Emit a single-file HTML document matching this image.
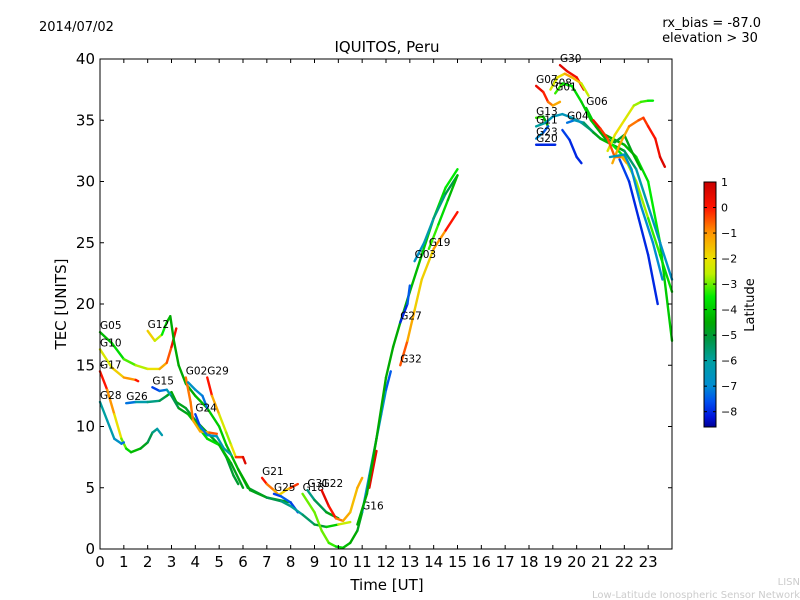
<!DOCTYPE html>
<html><head><meta charset="utf-8"><style>
body{margin:0;background:#fff;}
svg{display:block;font-family:"DejaVu Sans","Liberation Sans",sans-serif;}
</style></head><body>
<svg id="c" width="800" height="600">
<rect width="800" height="600" fill="#fff"/>
<text x="39" y="31" font-size="13">2014/07/02</text>
<text x="761" y="27" font-size="13" text-anchor="end">rx_bias = -87.0</text>
<text x="710" y="42" font-size="13" text-anchor="middle">elevation &gt; 30</text>
<text x="387" y="52" font-size="15" text-anchor="middle">IQUITOS, Peru</text>
<text x="387" y="590" font-size="15" text-anchor="middle">Time [UT]</text>
<text transform="translate(66,304) rotate(-90)" font-size="15" text-anchor="middle">TEC [UNITS]</text>
<text x="800" y="585" font-size="10" fill="#ccc" text-anchor="end">LISN</text>
<text x="800" y="598" font-size="10" fill="#ccc" text-anchor="end">Low-Latitude Ionospheric Sensor Network</text>
<g id="marks"></g>
<g id="axes"></g>
<defs><linearGradient id="jet" x1="0" y1="0" x2="0" y2="1"></linearGradient></defs>
<rect x="704" y="182" width="12" height="245" fill="url(#jet)" stroke="#000" stroke-width="1"/>
<text transform="translate(754,305) rotate(-90)" font-size="13" text-anchor="middle">Latitude</text>
<g id="cbt"></g>
</svg>
<script>
const xTicks=[0,1,2,3,4,5,6,7,8,9,10,11,12,13,14,15,16,17,18,19,20,21,22,23];
const yTicks=[0,5,10,15,20,25,30,35,40];
const cbTicks=[1,0,-1,-2,-3,-4,-5,-6,-7,-8];
const names=["G05","G12","G10","G17","G28","G26","G15","G02","G02b","G29","G24","G21","G25","G-low","G18","G31","G22","G16","G16b","G-rise","G32","G27","G03","G19","G07","G30","G08","G01","G13","G11","G04","G23","G20","G20b","G06","G-y","G-o","G-r","G-bd","G-teal"];
const labels=["G05","G12","G10","G17","G28","G26","G15","G02","","G29","G24","G21","G25","","G18","G31","G22","G16","","","G32","G27","G03","G19","G07","G30","G08","G01","G13","G11","G04","G23","G20","","G06","","","","",""];
const times=[
[0,0.5,1,1.5,2,2.5,2.8,3,3.2],
[2,2.3,2.6,2.8,2.95,3.1,3.3,3.6,4,4.5,5,5.3,5.8,6.2,7,8],
[0,0.5,1,1.5,1.6],
[0,0.3,0.6,0.9,1.1,1.3,1.7,2,2.2,2.4,2.6],
[0,0.3,0.6,0.9,1],
[1.1,1.5,2,2.5,2.8,3,3.2,3.6,4,4.5,5,5.3,5.6,5.8],
[2.2,2.5,2.8,3,3.3,3.7,4.1,4.5,5,5.5,6],
[3.6,3.8,3.9,4.2,4.6,4.9],
[3.7,4,4.3,4.5],
[4.5,4.7,5,5.3,5.5,5.7,6,6.1],
[4,4.2,4.5,4.9,5.2,5.5],
[6.8,7,7.3,7.5,7.8,8,8.3],
[7.3,7.6,8,8.3],
[5.8,6.3,7,7.6,8,8.5,9,9.5,10,10.5],
[8.5,9,9.3,9.6,9.9,10.2,10.5,10.8,11],
[8.7,9,9.5,10],
[9.3,9.6,9.9,10.2,10.5,10.8,11],
[11,11.3,11.6,11.8,12,12.2],
[11.3,11.6],
[10.8,11.2,11.6,12,12.3,12.6,13,13.5,14,14.5,15],
[12.6,12.9,13.2,13.5,14,14.5,15],
[12.6,12.9,13],
[13.2,13.6,14,14.5,15],
[13.8,14.2,14.6,15],
[18.3,18.6,18.8,19,19.3],
[19.3,19.6,20,20.3],
[18.9,19.2,19.5,19.8,20.2,20.5],
[19.1,19.4,19.8,20.2,20.6,21,21.5,22,22.5,23,23.5,24],
[18.3,18.6,18.8],
[18.3,18.7,19,19.4,19.8,20.2,20.6,21,21.5,22,22.5,23,23.5,24],
[19.6,19.9,20.3,20.7,21,21.5,22,22.5,23,23.5,24],
[18.3,18.6,18.8],
[18.3,18.7,19.1],
[19.4,19.7,20,20.2],
[20.4,20.8,21.2,21.6,22,22.3,22.7],
[21.3,21.6,22,22.4,22.7,23,23.2],
[21.5,21.8,22.2,22.6,22.8,23,23.3,23.5,23.7],
[20.7,21,21.3,21.6,21.9,22.1],
[21.8,22.2,22.6,23,23.4],
[21.4,22,22.3,22.7,23.2,23.6]];
const tec=[
[17.7,16.8,15.5,15,14.7,14.7,15.2,16.5,18],
[17.8,17,17.5,18.5,19,17,15,13.5,12.5,11.5,10,8.5,6.5,5,4.2,3.8],
[16.3,14.8,14,13.8,13.7],
[14.5,13,11,9,8.2,7.9,8.2,8.7,9.5,9.8,9.3],
[12,10.5,9,8.6,8.7],
[11.9,12,12,12.1,12.5,12.8,12,11.5,10.5,9.5,8.5,7.5,6,5.3],
[13.2,12.9,13,12.5,11.5,11,10,9,8.5,7,5],
[14,12,10.5,9.6,9.5,9.4],
[13.6,13,12.5,11.5],
[14,12.5,11,9.5,8.5,7.5,7.5,7],
[11,10,9.3,9.2,8.2,7.7],
[5.8,5.3,4.8,4.4,4.8,5,5.3],
[4.5,4.3,3.8,3],
[6.5,4.8,4.2,3.9,3.5,2.8,2,1.8,2,2.2],
[4.5,3,1.5,0.5,0.2,0.1,0.5,1.5,3],
[4.8,4,3,2.5],
[4.8,3.5,2.5,2.3,3,5,5.8],
[3,6,9,11,13,14.5],
[5,8],
[2,4.5,9,14,16.5,18.5,21,24,27,29.5,31],
[15,17,19.5,22,24.5,26,27.5],
[18.5,20,21.5],
[23.5,25,27,29,30.5],
[24.5,26.5,28.5,30.5],
[37.8,37.3,36.5,36.2,36.5],
[39.5,39,38.5,37.5],
[37.5,38.5,38.8,38.5,38,37],
[37.2,38,37.8,36.5,35,34,33.5,33,32,30,25,17],
[35.2,35.3,34.5],
[34.5,34.8,35.3,35.5,35.2,34.8,34.2,33.5,33,32.5,31,28,25,22],
[34.8,35,34.8,34,33.5,33,32,30,27,24,21],
[33.5,34,34.5],
[33,33,33],
[34.2,33.4,32,31.5],
[36,34.5,33.5,33.2,33.8,32.5,31],
[32.5,33.8,35,36.2,36.5,36.6,36.6],
[31.5,33,34.5,35,35.2,34.5,33.5,32,31.2],
[35,34.3,33.5,32,32,31.5],
[31.8,30,27,24,20],
[32,32.2,31,28,25,22]];
const lats=[
[-4.5,-4,-3.5,-2.8,-2.5,-1.5,-1,0,0.5],
[-1.5,-2,-3,-4,-4.5,-4.5,-4.5,-4.5,-4.5,-4,-4,-4,-4.5,-5,-5,-4.5],
[-2.5,-2,-1.5,-0.5,0.5],
[0.5,-0.5,-1.5,-2.5,-3.5,-4,-4.5,-5,-5.5,-6,-6.5],
[-6,-6,-6.5,-7,-7.5],
[-8,-6.5,-6,-5.5,-5,-4.5,-4.5,-5,-5,-4.5,-5,-5,-5,-5],
[-8,-7.5,-7,-5.5,-5,-4.5,-4,-3.5,-4,-4.5,-5],
[-1,-0.5,-1,-1.5,-1,0],
[-6.5,-7,-7,-7.5],
[0.5,-0.5,-2,-2.5,-3,-1,0.5,0.7],
[-8,-7.5,-7,-6.5,-6,-6],
[0.5,-0.5,-1,-1.5,-2,-1,0.5],
[-8,-7.5,-7.5,-8],
[-4.5,-4.5,-5,-5.5,-6,-6,-5,-5,-3,-2],
[-3,-3,-3,-3,-3.5,-4,-4.5,-4.5,-5],
[-6,-5.5,-5,-4.5],
[0.5,0.5,-0.5,-1,-1.5,-1.5,-1],
[-7,-6.5,-6.5,-7,-7,-8],
[0.5,0.5],
[-4.5,-4.5,-4.5,-4.5,-4.5,-4.5,-4.5,-4,-4,-3.5,-3.5],
[0,-1,-1.5,-2,-1.5,-0.5,0.5],
[-8,-8,-7],
[-7,-6.5,-6,-5.5,-5],
[-3,-3.5,-4,-4.5],
[0.5,0.3,-0.5,-1,-1.5],
[0.7,0.5,0,0.5],
[-2,-2.5,-1.5,-1,-2,-3],
[-3,-3.5,-3.5,-4,-4,-4.5,-4.5,-4.5,-4,-3.5,-3.5,-4.5],
[-2.5,-4,-5],
[-5.5,-6.5,-6.5,-6.5,-6.5,-6,-5.5,-5,-4.5,-5,-6,-6.5,-6.5,-7],
[-7.5,-7,-6,-5,-4.5,-4,-3,-2.5,-3,-3.5,-4],
[-6.5,-7.5,-7.5],
[-8,-8,-8],
[-7.5,-8,-8,-8],
[-4,-4,-5,-5,-5,-4.5,-4.5],
[-2.5,-2,-2,-2.5,-3,-3.5,-3.5],
[-1,-1.5,-1,-0.5,-0.5,0,0,0.5,0.8],
[0.5,0,-0.5,-0.5,-1,-1.5],
[-7.5,-8,-8,-8,-8],
[-6.5,-6.5,-7,-7,-7,-7]];

const X0=100,X1=672,Y0=549,Y1=59;
function xs(t){return X0+t*(X1-X0)/24;}
function ys(v){return Y0-v*(Y0-Y1)/40;}
const CBTOP=182,CBBOT=427,LMAX=1.0,LMIN=-8.6;
function cbY(l){return CBTOP+(LMAX-l)*(CBBOT-CBTOP)/(LMAX-LMIN);}
const CMAP=[[1.0,[200,0,0]],[0,[255,20,0]],[-1,[255,150,0]],[-2,[235,225,0]],[-2.6,[190,240,0]],[-3.5,[0,235,0]],[-4.5,[0,170,0]],[-5.2,[0,150,70]],[-6,[0,160,160]],[-7,[0,140,210]],[-7.6,[0,80,240]],[-8.2,[0,20,220]],[-8.6,[0,0,150]]];
function cmap(l){
  if(l>=CMAP[0][0])return 'rgb('+CMAP[0][1]+')';
  for(let i=0;i<CMAP.length-1;i++){
    const a=CMAP[i],b=CMAP[i+1];
    if(l<=a[0]&&l>=b[0]){const f=(a[0]-l)/(a[0]-b[0]);return 'rgb('+a[1].map((c,k)=>Math.round(c+(b[1][k]-c)*f)).join(',')+')';}
  }
  return 'rgb('+CMAP[CMAP.length-1][1]+')';
}
const NS="http://www.w3.org/2000/svg";
function mk(tag,attrs,parent){const e=document.createElementNS(NS,tag);for(const k in attrs)e.setAttribute(k,attrs[k]);parent.appendChild(e);return e;}
const grad=document.getElementById('jet');
CMAP.forEach(s=>{mk('stop',{offset:(LMAX-s[0])/(LMAX-LMIN),'stop-color':'rgb('+s[1]+')'},grad);});
const marks=document.getElementById('marks');
for(let s=0;s<times.length;s++){
  const g=mk('g',{},marks);
  
  
  for(let i=0;i<times[s].length-1;i++){
    const ln=mk('line',{x1:xs(times[s][i]),y1:ys(tec[s][i]),x2:xs(times[s][i+1]),y2:ys(tec[s][i+1]),stroke:cmap((lats[s][i]+lats[s][i+1])/2),'stroke-width':2.4,'stroke-linecap':'round'},g);
    
    
  }
  if(labels[s]){
    const t=mk('text',{x:xs(times[s][0]),y:ys(tec[s][0])-3,'font-size':10.5},g);
    t.textContent=labels[s];
    
    
  }
}
const ax=document.getElementById('axes');
const fr=mk('rect',{x:X0,y:Y1,width:X1-X0,height:Y0-Y1,fill:'none',stroke:'#000','stroke-width':1},ax);


xTicks.forEach(t=>{
  const x=xs(t);
  mk('line',{x1:x,y1:Y0,x2:x,y2:Y0-4,stroke:'#000'},ax);
  mk('line',{x1:x,y1:Y1,x2:x,y2:Y1+4,stroke:'#000'},ax);
  const tx=mk('text',{x:x,y:Y0+18,'font-size':15,'text-anchor':'middle'},ax);
  tx.textContent=t;
  
  
});
yTicks.forEach(v=>{
  const y=ys(v);
  mk('line',{x1:X0,y1:y,x2:X0+4,y2:y,stroke:'#000'},ax);
  mk('line',{x1:X1,y1:y,x2:X1-4,y2:y,stroke:'#000'},ax);
  const tx=mk('text',{x:X0-5,y:y+5,'font-size':15,'text-anchor':'end'},ax);
  tx.textContent=v;
  
  
});
const cbt=document.getElementById('cbt');
cbTicks.forEach(l=>{
  const y=cbY(l);
  mk('line',{x1:704,y1:y,x2:707,y2:y,stroke:'#000'},cbt);
  mk('line',{x1:716,y1:y,x2:713,y2:y,stroke:'#000'},cbt);
  const tx=mk('text',{x:721,y:y+4,'font-size':11},cbt);
  tx.textContent=l<0?'\u2212'+(-l):l;
  
  
});
</script>
</body></html>
